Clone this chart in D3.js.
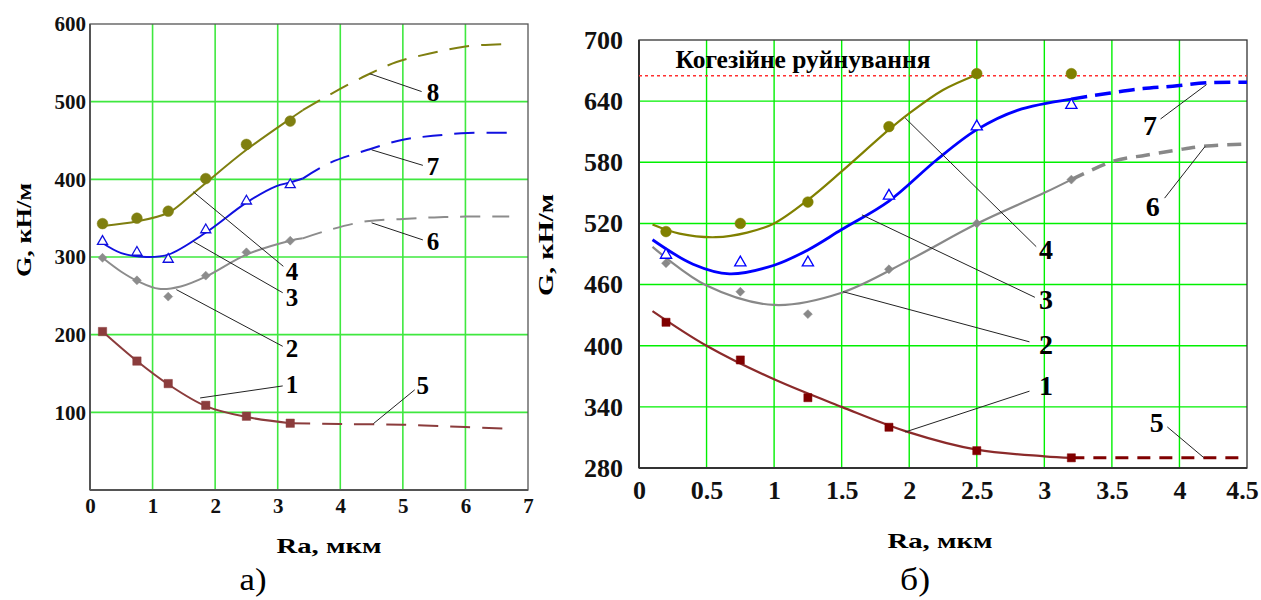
<!DOCTYPE html>
<html><head><meta charset="utf-8">
<script src="https://cdn.jsdelivr.net/npm/d3@7"></script>
<style>body{margin:0;background:#fff}svg{display:block}text{font-family:"Liberation Serif","Times New Roman",serif}</style>
</head><body><svg id="c" width="1261" height="600"></svg>
<script>
// ---------- DATA ----------
const xTitle = "Ra, мкм";
const yTitle = "G, кН/м";
const cohesionTitle = "Когезійне руйнування";
const panelLetters = ["а)", "б)"];

// panel a
const aXTicks = [0,1,2,3,4,5,6,7];
const aYTicks = [100,200,300,400,500,600];
const aRa = [0.2,0.75,1.25,1.85,2.5,3.2];
const aS1 = [204,166,137,109,95,86];
const aS2 = [299,270,249,276,306,321];
const aS3 = [320,306,297,335,372,393];
const aS4 = [343,350,359,401,445,475];
const aFit1 = [[0.2,204],[0.75,166],[1.25,136],[1.85,108],[2.5,94],[3.2,86]];
const aExt5 = [[3.2,86],[4,85],[5,84],[6,81],[6.7,79]];
const aFit2 = [[0.2,299],[0.5,281],[0.76,269],[1.1,259],[1.45,262],[1.86,275],[2.5,303],[3.2,321],[3.4,324]];
const aExt6 = [[3.4,324],[3.83,335],[4.42,346],[5.0,349],[5.5,351],[6.0,352],[6.7,352]];
const aFit3 = [[0.2,318],[0.5,305],[0.9,300],[1.25,303],[1.86,332],[2.5,370],[2.97,391],[3.2,396],[3.4,401]];
const aExt7 = [[3.4,401],[3.83,421],[4.44,438],[5.0,451],[5.48,456],[6.04,459.6],[6.7,460]];
const aFit4 = [[0.2,340],[0.76,346],[1.25,357],[1.55,375],[1.86,396],[2.5,438],[3.2,478],[3.4,489]];
const aExt8 = [[3.4,489],[3.83,509],[4.42,534],[4.9,551],[5.43,562],[6.0,571],[6.58,574],[6.7,574]];
// leader: label, from(x,y), to(x,y), text(x,y) in data units
const aLeaders = [
 ["8",4.47,536,5.30,513,5.38,501],
 ["7",4.50,438,5.32,418,5.38,405],
 ["6",4.50,344,5.32,322,5.38,309],
 ["4",1.65,384,3.09,288,3.13,271],
 ["3",1.65,320,3.08,254,3.13,237],
 ["2",1.38,258,3.08,185,3.13,171],
 ["1",1.76,118.5,3.08,134,3.13,125],
 ["5",4.53,85.5,5.19,129,5.22,123]
];

// panel b
const bXTicks = [0,0.5,1,1.5,2,2.5,3,3.5,4,4.5];
const bYTicks = [280,340,400,460,520,580,640,700];
const bRa = [0.2,0.75,1.25,1.85,2.5,3.2];
const bS1 = [423,386,349,320,297,290];
const bS2 = [481,453,431,475,520,563];
const bS3 = [489,481.5,481.5,547,615,636];
const bS4 = [512,520,541,615,667,667];
const bCohesion = 665;
const bFit1 = [[0.1,434],[0.5,400],[1.0,367],[1.5,340],[2.0,315],[2.5,298],[3.0,291.5],[3.2,290]];
const bExt5 = [[3.2,290],[4.5,290]];
const bFit2 = [[0.1,497],[0.5,459],[1.0,440],[1.5,452],[2.0,484],[2.5,519.6],[3.0,550],[3.2,563]];
const bExt6 = [[3.2,563],[3.51,581],[3.75,587],[3.98,592],[4.2,596],[4.5,598]];
const bFit3 = [[0.1,504],[0.4,480],[0.67,470.5],[1.0,479],[1.25,494],[1.5,514],[1.85,542],[2.2,582],[2.5,612],[2.8,631],[3.2,642]];
const bExt7 = [[3.2,642],[3.49,648],[3.73,652.3],[3.95,654.6],[4.2,658],[4.5,658.5]];
const bFit4 = [[0.1,519],[0.3,510],[0.57,506.5],[0.8,511],[1.0,520],[1.25,543],[1.5,571],[1.85,612],[2.0,628],[2.25,651],[2.5,666]];
const bLeaders = [
 ["4",1.97,623.5,2.94,497.2,2.96,484.9],
 ["3",1.65,528.4,2.93,447.5,2.96,435.7],
 ["2",1.51,453,2.89,403.8,2.96,391.7],
 ["1",1.97,315.3,2.89,355.4,2.96,351.4],
 ["5",4.18,290.2,3.91,320.3,3.78,315.3],
 ["7",4.20,656.2,3.86,622.5,3.73,607.1],
 ["6",4.19,595.6,3.89,544.8,3.75,526.8]
];

// ---------- DRAW ----------
const svg = d3.select("#c");

function panel(o){
  const g = svg.append("g");
  const x = d3.scaleLinear().domain(o.xd).range([o.l,o.r]);
  const y = d3.scaleLinear().domain(o.yd).range([o.b,o.t]);
  const inX = o.xt.filter(d=>d>o.xd[0]&&d<o.xd[1]);
  const inY = o.yt.filter(d=>d>o.yd[0]&&d<o.yd[1]);
  g.selectAll(".vg").data(inX).join("line").attr("x1",d=>x(d)).attr("x2",d=>x(d))
    .attr("y1",o.t).attr("y2",o.b).attr("stroke",o.grid).attr("stroke-width",o.gw);
  g.selectAll(".hg").data(inY).join("line").attr("y1",d=>y(d)).attr("y2",d=>y(d))
    .attr("x1",o.l).attr("x2",o.r).attr("stroke",o.grid).attr("stroke-width",o.gw);
  g.append("rect").attr("x",o.l).attr("y",o.t).attr("width",o.r-o.l).attr("height",o.b-o.t)
    .attr("fill","none").attr("stroke",o.frame).attr("stroke-width",1.3);
  g.append("line").attr("x1",o.l).attr("x2",o.l).attr("y1",o.t).attr("y2",o.b).attr("stroke",o.frame).attr("stroke-width",2);
  g.append("line").attr("x1",o.l).attr("x2",o.r).attr("y1",o.b).attr("y2",o.b).attr("stroke",o.frame).attr("stroke-width",2);
  const ya = g.append("g").attr("transform",`translate(${o.l},0)`)
    .call(d3.axisLeft(y).tickValues(o.yt).tickSize(0).tickPadding(o.yPad));
  const xa = g.append("g").attr("transform",`translate(0,${o.b})`)
    .call(d3.axisBottom(x).tickValues(o.xt).tickSize(0).tickPadding(o.xPad).tickFormat(d=>String(d)));
  [ya,xa].forEach(a=>{a.select(".domain").remove();
    a.selectAll("text").attr("font-family","Liberation Serif, Times New Roman, serif")
     .attr("font-weight","bold").attr("font-size",o.tickFs).attr("fill","#111");});
  // keep the last x label inside the page
  xa.selectAll("text").filter(d=>d===o.xd[1]).attr("dx",o.lastDx||0);
  return {g,x,y};
}

function curve(p, pts, color, w, dash){
  const ln = d3.line().x(d=>p.x(d[0])).y(d=>p.y(d[1])).curve(d3.curveCatmullRom.alpha(0.5));
  p.g.append("path").attr("d",ln(pts)).attr("fill","none").attr("stroke",color)
    .attr("stroke-width",w).attr("stroke-dasharray",dash||null).attr("stroke-linecap","butt");
}
function markers(p, xs, ys, type, color, size, open, rot){
  p.g.selectAll(null).data(xs.map((v,i)=>[v,ys[i]])).join("path")
    .attr("d", d3.symbol().type(type).size(size)())
    .attr("transform", d=>`translate(${p.x(d[0])},${p.y(d[1])})${rot?` rotate(${rot})`:""}`)
    .attr("fill", open?"#fff":color).attr("stroke",color).attr("stroke-width",open?1.3:0.5);
}
function leaders(p, arr, fs){
  arr.forEach(a=>{
    p.g.append("line").attr("x1",p.x(a[1])).attr("y1",p.y(a[2])).attr("x2",p.x(a[3])).attr("y2",p.y(a[4]))
      .attr("stroke","#222").attr("stroke-width",1);
    p.g.append("text").attr("x",p.x(a[5])).attr("y",p.y(a[6])).text(a[0])
      .attr("font-weight","bold").attr("font-size",fs).attr("fill","#000");
  });
}

// Panel a
const A = panel({xd:[0,7], yd:[0,600], l:90, r:528, t:24, b:490, xt:aXTicks, yt:aYTicks,
  grid:"#3fe83f", gw:1.6, frame:"#555", yPad:4, xPad:8, tickFs:21});
curve(A,aFit1,"#8b3c3c",2); curve(A,aExt5,"#8b3c3c",2,"20,12");
curve(A,aFit2,"#8c8c8c",2); curve(A,aExt6,"#8c8c8c",2,"20,12");
curve(A,aFit3,"#1010e0",2); curve(A,aExt7,"#1010e0",2,"20,12");
curve(A,aFit4,"#7f7f10",2); curve(A,aExt8,"#7f7f10",2,"20,12");
markers(A,aRa,aS1,d3.symbolSquare,"#8b3c3c",70);
markers(A,aRa,aS2,d3.symbolSquare,"#8c8c8c",40,false,45);
markers(A,aRa,aS3,d3.symbolTriangle,"#1010e0",44,true);
markers(A,aRa,aS4,d3.symbolCircle,"#7f7f10",90);
leaders(A,aLeaders,25);

// Panel b
const B = panel({xd:[0,4.5], yd:[280,700], l:639, r:1247, t:40, b:468, xt:bXTicks, yt:bYTicks,
  grid:"#00f000", gw:1.4, frame:"#333", yPad:16, xPad:13, tickFs:26, lastDx:-5});
B.g.append("line").attr("x1",B.x(0)).attr("x2",B.x(4.5)).attr("y1",B.y(bCohesion)).attr("y2",B.y(bCohesion))
  .attr("stroke","#ff3030").attr("stroke-width",1.5).attr("stroke-dasharray","3,3");
B.g.append("text").attr("x",B.x(0.27)).attr("y",B.y(672.5)).text(cohesionTitle)
  .attr("font-weight","bold").attr("font-size",25).attr("textLength",255).attr("lengthAdjust","spacingAndGlyphs");
curve(B,bFit1,"#8b2a2a",2.2); curve(B,bExt5,"#800000",3,"13,9");
curve(B,bFit2,"#888",2.2); curve(B,bExt6,"#888",3.5,"14,9");
curve(B,bFit3,"#0000ff",2.8); curve(B,bExt7,"#0000ff",3.5,"16,8");
curve(B,bFit4,"#808000",2.2);
markers(B,bRa,bS1,d3.symbolSquare,"#800000",66);
markers(B,bRa,bS2,d3.symbolSquare,"#888",40,false,45);
markers(B,bRa,bS3,d3.symbolTriangle,"#0000ff",55,true);
markers(B,bRa,bS4,d3.symbolCircle,"#808000",90);
leaders(B,bLeaders,28);

// titles
function title(x,y,txt,fs,len,rot,weight){
  const t = svg.append("text").attr("x",x).attr("y",y).attr("text-anchor","middle")
    .attr("font-size",fs).attr("font-weight",weight||"bold").text(txt);
  if(len) t.attr("textLength",len).attr("lengthAdjust","spacingAndGlyphs");
  if(rot) t.attr("transform",`rotate(-90,${x},${y})`);
}
title(329,553,xTitle,20,105);
title(940,548,xTitle,22,105);
title(31,230,yTitle,22,94,true);
title(553,245,yTitle,22,102,true);
title(253,590,panelLetters[0],32,27,false,"normal");
title(915,590,panelLetters[1],32,30,false,"normal");
</script></body></html>
